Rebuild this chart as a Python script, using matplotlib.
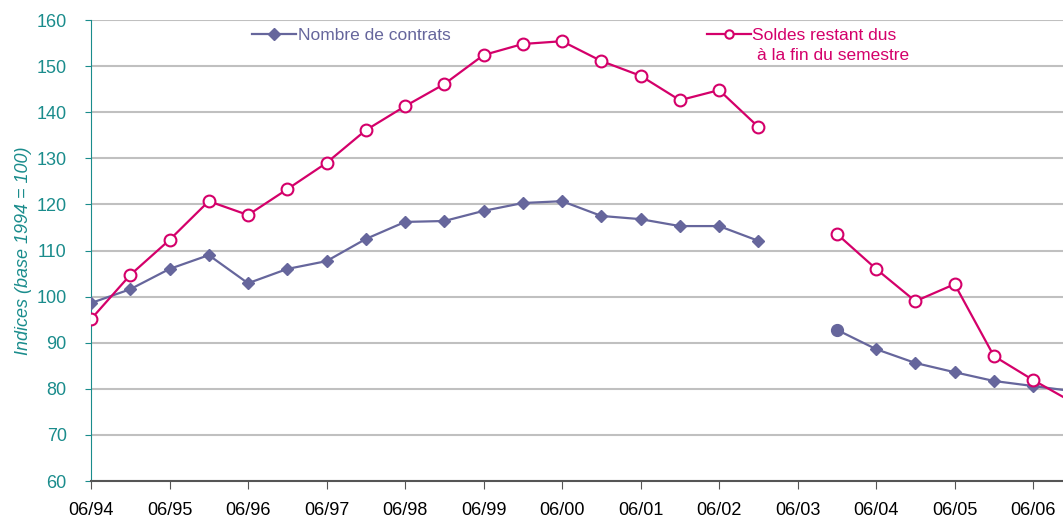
import numpy as np
import matplotlib.pyplot as plt
from matplotlib.lines import Line2D

plt.rcParams['font.family'] = ['Liberation Sans', 'DejaVu Sans']

# half-year steps starting at 06/94 (NaN = no data for 06/03)
semestres = np.arange(0, 26) / 2.0
contrats = [98.6, 101.6, 106.0, 109.0, 102.9, 106.0, 107.7, 112.5, 116.2, 116.4,
            118.6, 120.3, 120.7, 117.5, 116.8, 115.3, 115.3, 112.1, np.nan,
            92.8, 88.6, 85.6, 83.6, 81.7, 80.6, 79.5]
soldes = [95.1, 104.7, 112.3, 120.7, 117.7, 123.3, 129.0, 136.1, 141.3, 146.1,
          152.4, 154.8, 155.4, 151.1, 147.9, 142.6, 144.8, 136.8, np.nan,
          113.6, 106.0, 99.0, 102.7, 87.1, 81.9, 77.1]
xlabels = ['06/94', '06/95', '06/96', '06/97', '06/98', '06/99', '06/00',
           '06/01', '06/02', '06/03', '06/04', '06/05', '06/06']

c_blue = '#66669c'
c_pink = '#d4006a'
c_teal = '#1a8c8c'

fig = plt.figure(figsize=(10.63, 5.17), dpi=100)
ax = fig.add_axes([0.0856, 0.0696, 0.9144, 0.8917])

ax.set_ylim(60, 160)
ax.set_xlim(0, 12.38)
ax.set_yticks(np.arange(60, 161, 10))
ax.set_xticks(np.arange(0, 13))
ax.set_xticklabels(xlabels)
ax.grid(axis='y', color='#c0c0c0', linewidth=1.5)
ax.set_axisbelow(True)

ax.plot(semestres, contrats, color=c_blue, lw=1.6, marker='D', ms=6.5, zorder=3)
# first point after the gap is drawn as a round marker
ax.plot(semestres[19], contrats[19], color=c_blue, marker='o', ms=8.5, zorder=4)
ax.plot(semestres, soldes, color=c_pink, lw=1.6, marker='o', ms=8.5,
        mfc='white', mew=1.5, zorder=3)

for s in ['top', 'right']:
    ax.spines[s].set_visible(False)
ax.spines['left'].set_color(c_teal)
ax.spines['bottom'].set_color('#555555')
ax.spines['bottom'].set_linewidth(1.5)
ax.tick_params(axis='y', colors=c_teal, labelsize=13, length=4, pad=13.5)
ax.tick_params(axis='x', labelsize=13, length=6, color='#555555', pad=9)
ax.set_ylabel('Indices (base 1994 = 100)', style='italic', color=c_teal,
              fontsize=13, labelpad=3)

h1 = Line2D([], [], color=c_blue, lw=1.6, marker='D', ms=6)
h2 = Line2D([], [], color=c_pink, lw=1.6, marker='o', ms=6, mfc='white', mew=1.5)
leg1 = ax.legend([h1], ['Nombre de contrats'], loc='upper left',
                 bbox_to_anchor=(0.15, 1.016), frameon=False, fontsize=12.5,
                 handlelength=2.5, handletextpad=0.1, labelcolor=c_blue)
ax.add_artist(leg1)
ax.legend([h2], ['Soldes restant dus'], loc='upper left',
          bbox_to_anchor=(0.618, 1.016), frameon=False, fontsize=12.5,
          handlelength=2.5, handletextpad=0.1, labelcolor=c_pink)
ax.text(0.685, 0.924, 'à la fin du semestre', transform=ax.transAxes,
        fontsize=12.5, color=c_pink, va='center', ha='left')

fig.savefig('out.png', dpi=100)
